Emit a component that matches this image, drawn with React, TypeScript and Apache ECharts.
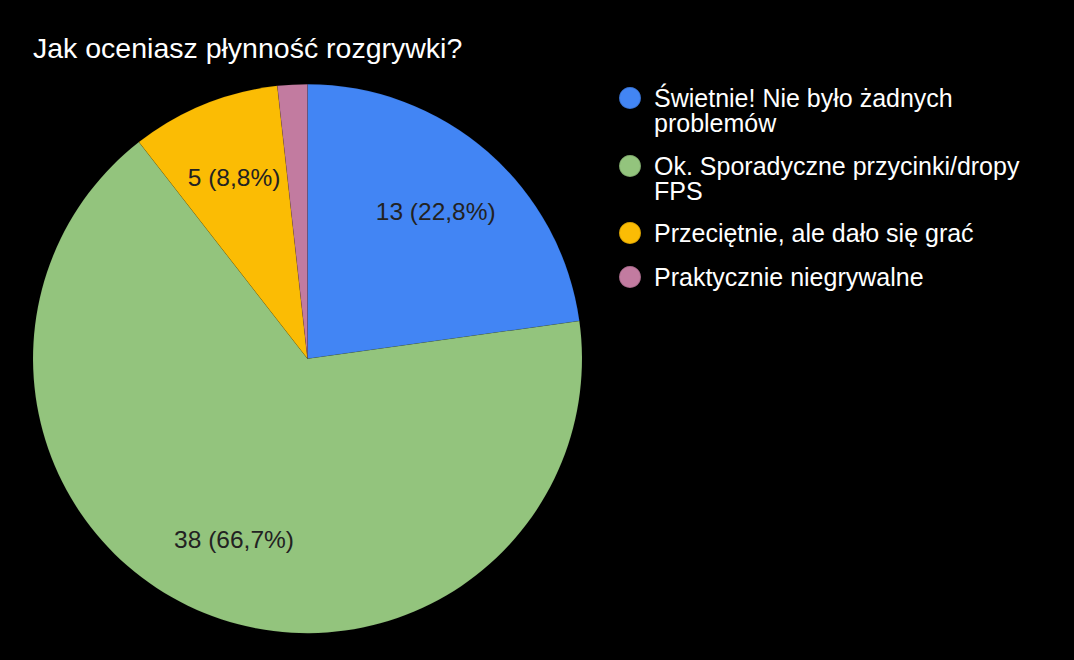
import React, { useEffect, useRef } from "react";
import * as echarts from "echarts";

const TITLE = "Jak oceniasz płynność rozgrywki?";
const categories = [
  "Świetnie! Nie było żadnych problemów",
  "Ok. Sporadyczne przycinki/dropy FPS",
  "Przeciętnie, ale dało się grać",
  "Praktycznie niegrywalne",
];
const legendText = [
  "Świetnie! Nie było żadnych\nproblemów",
  "Ok. Sporadyczne przycinki/dropy\nFPS",
  "Przeciętnie, ale dało się grać",
  "Praktycznie niegrywalne",
];
const values = [13, 38, 5, 1];
const colors = ["#4285f4", "#93c47d", "#fbbc04", "#c27ba0"];
const showLabel = [true, true, true, false];

export default function App() {
  const ref = useRef<HTMLDivElement>(null);
  useEffect(() => {
    if (!ref.current) return;
    const chart = echarts.init(ref.current, undefined, { renderer: "svg" });
    const total = values.reduce((a, b) => a + b, 0);
    const font = "'Liberation Sans', Arial, sans-serif";
    const legendTops = [55.5, 123.5, 215.5, 259.5];
    const legends = categories.map((c, i) => {
      const twoLine = legendText[i].includes("\n");
      return {
        data: [c],
        orient: "vertical",
        left: 613,
        top: legendTops[i],
        icon: "circle",
        itemWidth: 22,
        itemHeight: 22,
        formatter: () => (twoLine ? "\u00a0\n" + legendText[i] : legendText[i]),
        textStyle: {
          color: "#ffffff",
          fontSize: 25,
          fontFamily: font,
          lineHeight: 25,
          padding: [0, 0, 0, 8],
        },
      };
    });
    const data = categories.map((c, i) => ({
      name: c,
      value: values[i],
      itemStyle: { color: colors[i] },
    }));
    chart.setOption({
      animation: false,
      backgroundColor: "#000000",
      color: colors,
      title: {
        text: TITLE,
        left: 28,
        top: 28,
        textStyle: {
          color: "#ffffff",
          fontSize: 28.5,
          fontWeight: "normal",
          fontFamily: font,
        },
      },
      legend: legends,
      series: [
        {
          type: "pie",
          center: [307.5, 358.7],
          radius: [0, 274.5],
          startAngle: 90,
          clockwise: true,
          label: { show: false },
          labelLine: { show: false },
          itemStyle: { borderWidth: 0.5, borderColor: "rgba(0,0,0,0.15)" },
          emphasis: { disabled: true },
          data,
        },
        {
          type: "pie",
          center: [307.5, 358.7],
          radius: [110, 274.5],
          startAngle: 90,
          clockwise: true,
          silent: true,
          itemStyle: { color: "transparent", borderWidth: 0 },
          emphasis: { disabled: true },
          labelLine: { show: false },
          label: {
            show: true,
            position: "inside",
            color: "#222222",
            fontSize: 24.5,
            fontFamily: font,
            formatter: (p: any) =>
              showLabel[p.dataIndex]
                ? `${p.value} (${((p.value / total) * 100).toFixed(1).replace(".", ",")}%)`
                : "",
          },
          data: categories.map((c, i) => ({ name: c, value: values[i] })),
        },
      ],
    });
    return () => chart.dispose();
  }, []);
  return (
    <div
      ref={ref}
      style={{ position: "fixed", left: 0, top: 0, width: 1074, height: 660, background: "#000" }}
    />
  );
}
